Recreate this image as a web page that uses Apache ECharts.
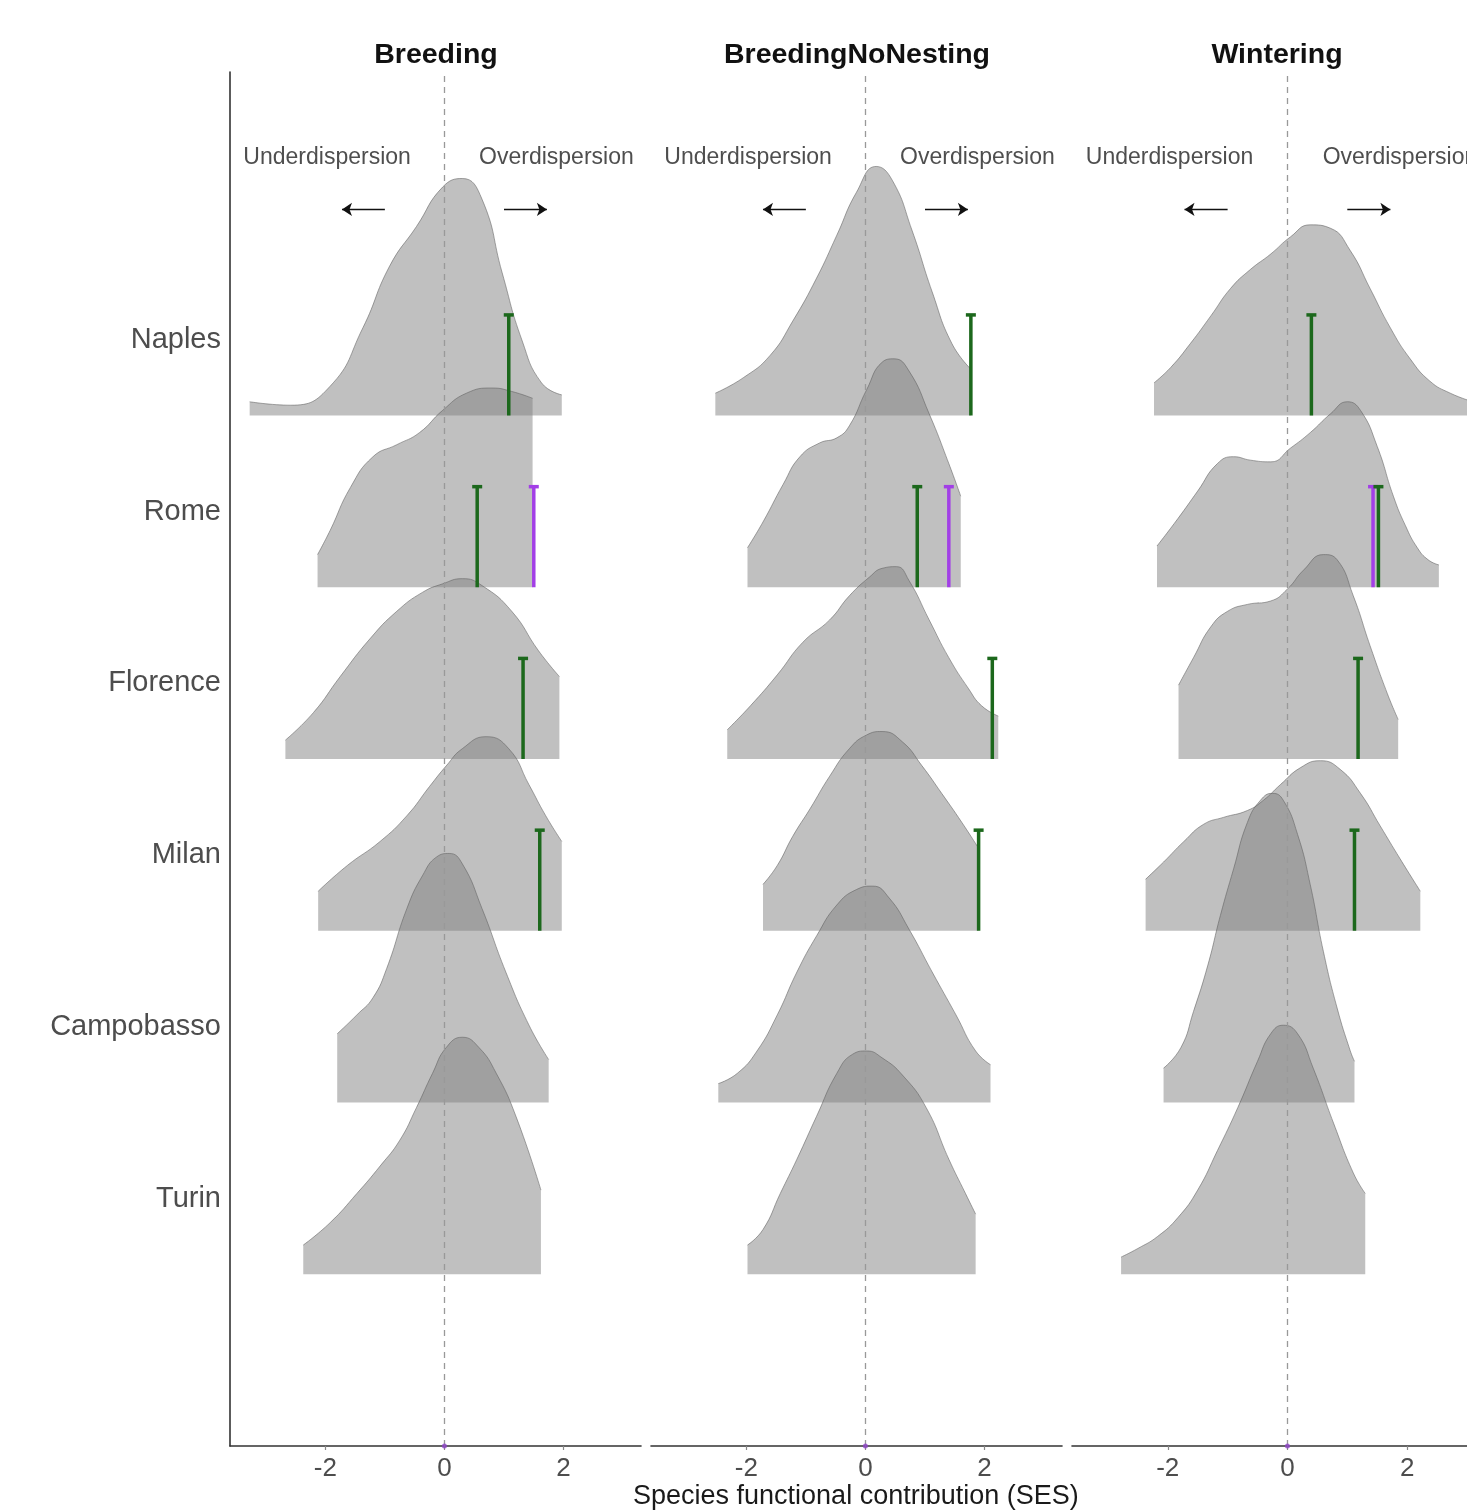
<!DOCTYPE html>
<html>
<head>
<meta charset="utf-8">
<script src="https://cdn.jsdelivr.net/npm/echarts@6/dist/echarts.min.js"></script>
<style>
html,body{margin:0;padding:0;background:#fff;}
#chart{width:1467px;height:1511px;}
</style>
</head>
<body>
<div id="chart"></div>
<script>
// ---------- data ----------
const cities = ['Naples', 'Rome', 'Florence', 'Milan', 'Campobasso', 'Turin'];
const panels = ['Breeding', 'BreedingNoNesting', 'Wintering'];
const xTicks = [-2, 0, 2];
const annotTexts = ['Underdispersion', 'Overdispersion'];
const axisTitle = 'Species functional contribution (SES)';

// density ridges: [SES, scaled density], one list per city (cities order)
const densBreeding = [
  [[-3.27,0.08],[-2.58,0.06],[-1.92,0.17],[-1.37,0.51],[-0.92,0.87],[-0.47,1.10],[-0.03,1.33],[0.30,1.38],[0.63,1.26],[0.97,0.83],[1.30,0.44],[1.63,0.19],[1.97,0.12]],
  [[-2.13,0.19],[-1.92,0.33],[-1.58,0.58],[-1.20,0.76],[-0.80,0.83],[-0.42,0.90],[-0.03,1.03],[0.37,1.13],[0.80,1.16],[1.13,1.14],[1.48,1.10]],
  [[-2.67,0.11],[-2.20,0.27],[-1.75,0.48],[-1.25,0.70],[-0.80,0.86],[-0.37,0.97],[-0.03,1.02],[0.30,1.05],[0.63,1.01],[1.13,0.86],[1.58,0.63],[1.93,0.48]],
  [[-2.12,0.23],[-1.63,0.38],[-1.08,0.52],[-0.63,0.67],[-0.25,0.84],[0.03,0.96],[0.30,1.06],[0.70,1.13],[1.08,1.06],[1.42,0.85],[1.70,0.67],[1.97,0.52]],
  [[-1.80,0.40],[-1.47,0.51],[-1.20,0.61],[-0.97,0.78],[-0.63,1.13],[-0.37,1.32],[-0.13,1.43],[0.08,1.45],[0.30,1.39],[0.63,1.13],[1.03,0.76],[1.42,0.45],[1.75,0.25]],
  [[-2.37,0.17],[-1.92,0.30],[-1.47,0.47],[-1.08,0.63],[-0.75,0.78],[-0.47,0.97],[-0.20,1.17],[0.03,1.32],[0.30,1.38],[0.58,1.32],[0.87,1.17],[1.20,0.92],[1.62,0.49]]
];
const densNoNesting = [
  [[-2.52,0.13],[-2.05,0.22],[-1.60,0.35],[-1.22,0.55],[-0.82,0.80],[-0.48,1.05],[-0.15,1.30],[0.18,1.45],[0.45,1.37],[0.78,1.08],[1.12,0.72],[1.45,0.42],[1.77,0.27]],
  [[-1.98,0.23],[-1.72,0.38],[-1.38,0.60],[-1.10,0.76],[-0.77,0.84],[-0.48,0.87],[-0.27,0.94],[0.02,1.15],[0.28,1.31],[0.48,1.33],[0.73,1.26],[1.07,1.01],[1.40,0.72],[1.60,0.53]],
  [[-2.32,0.17],[-1.93,0.31],[-1.48,0.49],[-1.05,0.68],[-0.60,0.81],[-0.27,0.95],[0.07,1.06],[0.28,1.11],[0.52,1.12],[0.73,1.04],[1.07,0.81],[1.40,0.59],[1.73,0.41],[1.95,0.31],[2.23,0.25]],
  [[-1.72,0.27],[-1.48,0.38],[-1.22,0.55],[-0.93,0.71],[-0.60,0.90],[-0.27,1.06],[0.02,1.14],[0.28,1.16],[0.62,1.10],[0.95,0.96],[1.28,0.80],[1.62,0.63],[1.90,0.48]],
  [[-2.47,0.11],[-2.15,0.17],[-1.82,0.30],[-1.48,0.51],[-1.15,0.76],[-0.82,0.97],[-0.48,1.15],[-0.15,1.24],[0.12,1.26],[0.40,1.19],[0.73,1.01],[1.12,0.76],[1.52,0.51],[1.85,0.30],[2.10,0.22]],
  [[-1.98,0.17],[-1.72,0.26],[-1.43,0.47],[-1.15,0.67],[-0.82,0.92],[-0.48,1.17],[-0.22,1.28],[0.02,1.30],[0.28,1.26],[0.62,1.16],[1.02,0.97],[1.40,0.67],[1.68,0.47],[1.85,0.35]]
];
const densWintering = [
  [[-2.23,0.19],[-1.95,0.28],[-1.62,0.42],[-1.28,0.58],[-0.95,0.74],[-0.62,0.85],[-0.28,0.94],[0.05,1.04],[0.38,1.11],[0.72,1.09],[1.05,0.96],[1.38,0.74],[1.72,0.51],[2.05,0.33],[2.38,0.20],[2.72,0.13],[3.10,0.08]],
  [[-2.18,0.24],[-1.83,0.40],[-1.50,0.56],[-1.17,0.72],[-0.90,0.76],[-0.62,0.74],[-0.28,0.73],[0.05,0.81],[0.38,0.90],[0.72,1.01],[1.00,1.08],[1.22,1.03],[1.50,0.82],[1.77,0.53],[1.97,0.36],[2.17,0.23],[2.35,0.16],[2.53,0.13]],
  [[-1.82,0.43],[-1.57,0.59],[-1.28,0.77],[-1.00,0.86],[-0.67,0.90],[-0.28,0.92],[0.00,0.99],[0.27,1.10],[0.60,1.19],[0.83,1.16],[1.10,0.95],[1.38,0.66],[1.67,0.38],[1.85,0.23]],
  [[-2.37,0.30],[-2.07,0.40],[-1.73,0.52],[-1.40,0.62],[-1.07,0.66],[-0.67,0.70],[-0.40,0.76],[-0.12,0.85],[0.22,0.95],[0.55,0.99],[0.88,0.94],[1.22,0.80],[1.55,0.61],[1.88,0.42],[2.22,0.23]],
  [[-2.07,0.20],[-1.78,0.32],[-1.57,0.53],[-1.33,0.80],[-1.12,1.09],[-0.90,1.36],[-0.67,1.63],[-0.45,1.76],[-0.25,1.80],[-0.07,1.76],[0.17,1.56],[0.38,1.27],[0.60,0.88],[0.83,0.55],[1.05,0.30],[1.12,0.24]],
  [[-2.78,0.10],[-2.50,0.15],[-2.17,0.22],[-1.83,0.33],[-1.50,0.49],[-1.17,0.72],[-0.83,0.97],[-0.50,1.24],[-0.28,1.40],[-0.07,1.45],[0.17,1.40],[0.43,1.20],[0.77,0.88],[1.10,0.59],[1.30,0.47]]
];
// observed values: [SES, city index, kind index (0 green, 1 purple)]
const barsBreeding  = [[1.08,0,0],[0.55,1,0],[1.50,1,1],[1.32,2,0],[1.60,3,0]];
const barsNoNesting = [[1.77,0,0],[0.87,1,0],[1.40,1,1],[2.13,2,0],[1.90,3,0]];
const barsWintering = [[0.40,0,0],[1.43,1,1],[1.52,1,0],[1.18,2,0],[1.12,3,0]];

// ---------- chart ----------
const densAll = [densBreeding, densNoNesting, densWintering];
const barsAll = [barsBreeding, barsNoNesting, barsWintering];
const barColors = ['#1c681c', '#a23fe6'];
const BAR_LEN = 0.59;
const LABEL_OFF = 0.44;
const FONT = '"Liberation Sans", Arial, Helvetica, sans-serif';
const gridLefts = [230, 651, 1072];
const gridWidths = [411, 411, 395];
const titleCenters = [431, 852, 1272];
const xMaxes = [3.3, 3.3, 3.0];
const nRows = cities.length;
const baseOf = (ci) => nRows - ci;

const chart = echarts.init(document.getElementById('chart'), null, {renderer: 'canvas'});

const grid = [], xAxis = [], yAxis = [], series = [], title = [];
panels.forEach((p, pi) => {
  grid.push({left: gridLefts[pi], top: 72, width: gridWidths[pi], height: 1374, containLabel: false});
  title.push({
    text: p, left: titleCenters[pi], top: 36, textAlign: 'center',
    textStyle: {fontFamily: FONT, fontSize: 28.5, fontWeight: 'bold', color: '#111'}
  });
  xAxis.push({
    type: 'value', gridIndex: pi, min: -3.6, max: xMaxes[pi],
    axisLine: {show: true, onZero: false, lineStyle: {color: '#333', width: 1.6}},
    axisTick: {show: true, length: 4, customValues: xTicks, lineStyle: {color: '#888', width: 1.2}},
    axisLabel: {show: true, customValues: xTicks, margin: 10, fontSize: 26, color: '#4d4d4d', fontFamily: FONT},
    splitLine: {show: false}
  });
  yAxis.push({
    type: 'value', gridIndex: pi, min: 0, max: 8,
    axisLine: {show: pi === 0, onZero: false, lineStyle: {color: '#333', width: 1.6}},
    axisTick: {show: false},
    axisLabel: {
      show: pi === 0, customValues: cities.map((c, ci) => baseOf(ci) + LABEL_OFF),
      margin: 9, fontSize: 29, color: '#4d4d4d', fontFamily: FONT,
      formatter: (v) => cities[nRows - Math.round(v - LABEL_OFF)]
    },
    splitLine: {show: false}
  });

  // ridges
  densAll[pi].forEach((pts, ci) => {
    const base = baseOf(ci);
    series.push({
      type: 'line', xAxisIndex: pi, yAxisIndex: pi, silent: true,
      data: pts.map(d => [d[0], base + d[1]]),
      smooth: 0.5, showSymbol: false, symbol: 'none',
      lineStyle: {color: 'rgba(95,95,95,0.55)', width: 1},
      areaStyle: {color: 'rgb(127,127,127)', opacity: 0.49, origin: base},
      z: 2
    });
  });

  // annotations + arrows
  series.push({
    type: 'scatter', xAxisIndex: pi, yAxisIndex: pi, silent: true,
    symbolSize: 0,
    data: [[-1.97, 7.5, annotTexts[0]], [1.88, 7.5, annotTexts[1]]],
    label: {show: true, position: 'inside', formatter: (d) => d.value[2],
      fontSize: 23, color: '#222', fontFamily: FONT},
    clip: false,
    markLine: {
      silent: true, animation: false,
      symbol: ['none', 'arrow'], symbolSize: 10,
      label: {show: false},
      lineStyle: {color: '#111', width: 1.4, type: 'solid'},
      data: [
        [{coord: [-1.0, 7.2]}, {coord: [-1.72, 7.2]}],
        [{coord: [1.0, 7.2]}, {coord: [1.72, 7.2]}]
      ]
    },
    z: 4
  });
  // dashed zero line
  series.push({
    type: 'line', xAxisIndex: pi, yAxisIndex: pi, silent: true,
    data: [], showSymbol: false,
    markLine: {
      silent: true, animation: false, symbol: ['none', 'none'],
      label: {show: false},
      lineStyle: {color: '#999', width: 1.3, type: [6, 5]},
      data: [{xAxis: 0}]
    },
    z: 3
  });

  // observed bars
  series.push({
    type: 'custom', xAxisIndex: pi, yAxisIndex: pi, silent: true,
    data: barsAll[pi].map(b => [b[0], baseOf(b[1]), b[2]]),
    renderItem: (params, api) => {
      const x = api.value(0), base = api.value(1), kind = api.value(2);
      const b = api.coord([x, base]);
      const t = api.coord([x, base + BAR_LEN]);
      const col = barColors[kind];
      return {type: 'group', children: [
        {type: 'line', shape: {x1: b[0], y1: b[1], x2: t[0], y2: t[1] + 1}, style: {stroke: col, lineWidth: 3.5}},
        {type: 'rect', shape: {x: t[0] - 5, y: t[1] - 1, width: 10, height: 3.5}, style: {fill: col}}
      ]};
    },
    z: 5
  });

  // purple marker at zero on axis
  series.push({
    type: 'scatter', xAxisIndex: pi, yAxisIndex: pi, silent: true, clip: false,
    data: [[0, 0]], symbolSize: 5, itemStyle: {color: '#8e44c8'}, z: 6
  });
});

chart.setOption({
  animation: false,
  backgroundColor: '#ffffff',
  title, grid, xAxis, yAxis, series,
  graphic: [{
    type: 'text', left: 857 - 224, top: 1483,
    style: {text: axisTitle, fontSize: 27, fill: '#1a1a1a', fontFamily: FONT}
  }]
});
</script>
</body>
</html>
